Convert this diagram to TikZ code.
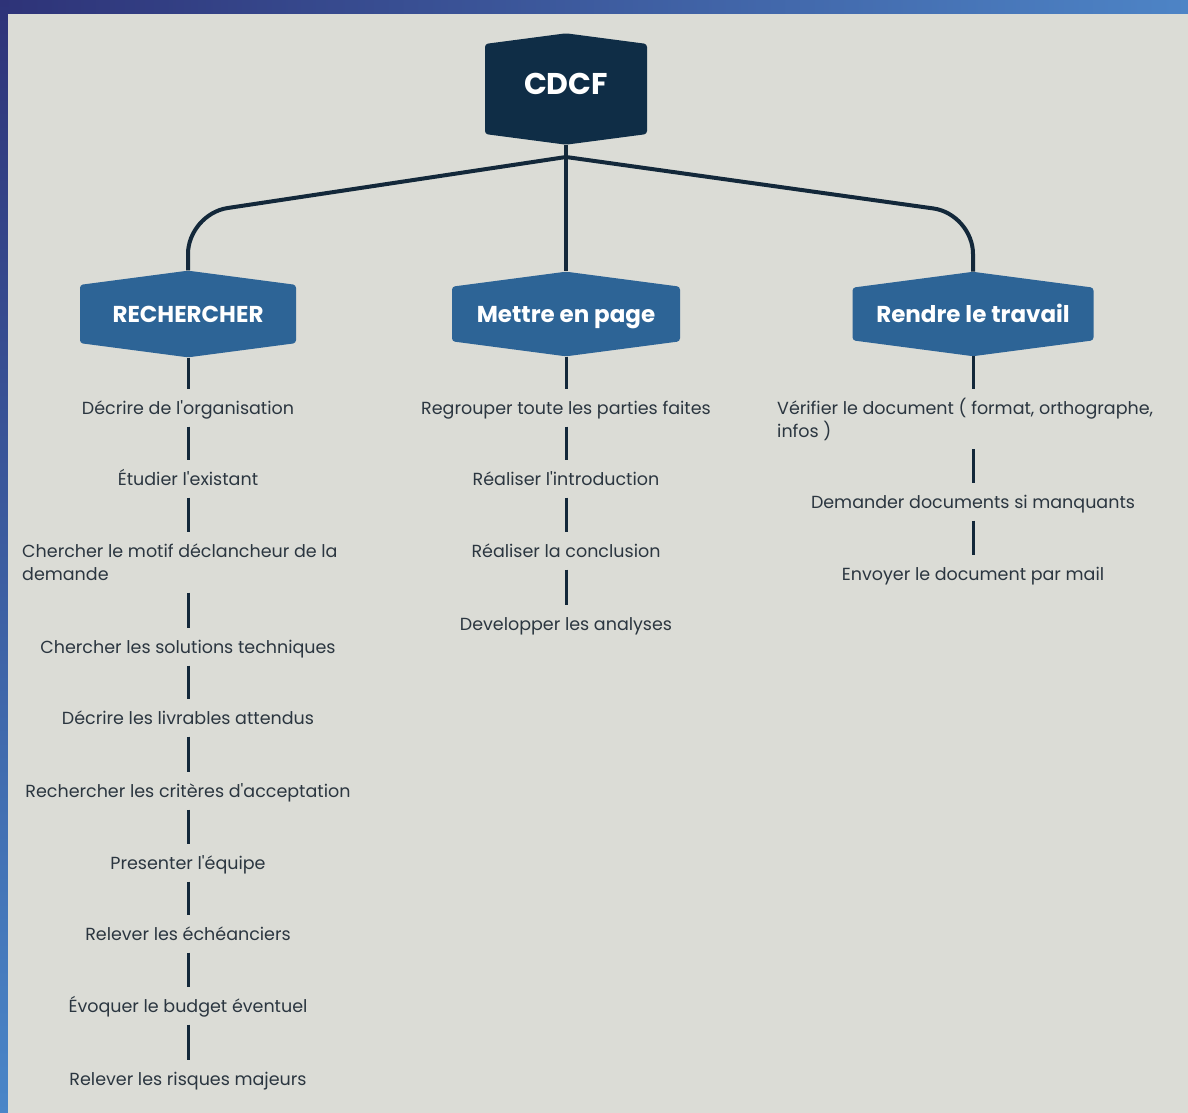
\documentclass[tikz,border=0pt]{standalone}
\usepackage{fontspec}
\setmainfont{Poppins}
\usetikzlibrary{shapes.symbols,positioning,calc}
\definecolor{cdcfnavy}{HTML}{0F2D46}
\definecolor{cdcfblue}{HTML}{2D6496}
\definecolor{cdcfline}{HTML}{13283A}
\definecolor{cdcftext}{HTML}{2B3640}
\definecolor{cdcfpanel}{HTML}{DBDCD6}
\definecolor{frameA}{HTML}{2E3378}
\definecolor{frameB}{HTML}{4D84C6}
\definecolor{frameC}{HTML}{4A86C8}

\begin{document}
\begin{tikzpicture}[x=1pt,y=-1pt,
    rootbox/.style={shape=signal, signal to=north and south, signal pointer angle=165,
                    fill=cdcfnavy, text=white, rounded corners=3pt,
                    font=\fontsize{30}{34}\selectfont\bfseries,
                    text height=21pt, text depth=10pt,
                    minimum width=162pt, minimum height=102pt},
    branchbox/.style={shape=signal, signal to=north and south, signal pointer angle=165,
                      fill=cdcfblue, text=white, rounded corners=3pt,
                      font=\fontsize{23}{27}\selectfont\bfseries,
                      text height=18.5pt, text depth=2.5pt, minimum height=79pt},
    item/.style={text=cdcftext, font=\fontsize{17.5}{23}\selectfont,
                 inner xsep=0pt, inner ysep=11pt, text height=14pt, text depth=1pt},
    item2/.style={item, align=left, anchor=west, text height=37pt},
    link/.style={draw=cdcfline, line width=4pt},
    sublink/.style={draw=cdcfline, line width=3pt}]

    % frame and panel
    \useasboundingbox (0,0) rectangle (1188,1113);
    \fill[left color=frameA, right color=frameB] (0,0) rectangle (1188,14);
    \fill[top color=frameA, bottom color=frameC] (0,0) rectangle (8,1113);
    \fill[cdcfpanel] (8,14) rectangle (1188,1113);

    % Top box
    \node[rootbox] (cdcf) at (566,89) {CDCF};

    % Branch boxes
    \node[branchbox, minimum width=216pt] (rech) at (188,314) {RECHERCHER};
    \node[branchbox, minimum width=228pt] (mise) at (566,314) {Mettre en page};
    \node[branchbox, minimum width=241pt] (rend) at (973,314) {Rendre le travail};

    % Tree lines
    \coordinate (hub) at (566,157);
    \coordinate (lbend) at (188,214);
    \coordinate (rbend) at (973,214);
    \draw[link] (cdcf.south) -- (hub);
    \draw[link, rounded corners=40pt] (hub) -- (lbend) -- (rech.north);
    \draw[link] (hub) -- (mise.north);
    \draw[link, rounded corners=40pt] (hub) -- (rbend) -- (rend.north);

    % RECHERCHER column
    \node[item] (l1) at (188,408) {Décrire de l\textquotesingle organisation};
    \node[item] (l2) at (188,479) {Étudier l\textquotesingle existant};
    \node[item2] (l3) at (22,562.5) {Chercher le motif déclancheur de la\\demande};
    \node[item] (l4) at (188,647) {Chercher les solutions techniques};
    \node[item] (l5) at (188,718) {Décrire les livrables attendus};
    \node[item] (l6) at (188,791) {Rechercher les critères d\textquotesingle acceptation};
    \node[item] (l7) at (188,863) {Presenter l\textquotesingle équipe};
    \node[item] (l8) at (188,934) {Relever les échéanciers};
    \node[item] (l9) at (188,1006) {Évoquer le budget éventuel};
    \node[item] (l10) at (188,1079) {Relever les risques majeurs};

    % Mettre en page column
    \node[item] (m1) at (566,408) {Regrouper toute les parties faites};
    \node[item] (m2) at (566,479) {Réaliser l\textquotesingle introduction};
    \node[item] (m3) at (566,551) {Réaliser la conclusion};
    \node[item] (m4) at (566,624) {Developper les analyses};

    % Rendre le travail column
    \node[item2] (r1) at (777,419) {Vérifier le document ( format, orthographe,\\infos )};
    \node[item] (r2) at (973,502) {Demander documents si manquants};
    \node[item] (r3) at (973,574) {Envoyer le document par mail};

    % Vertical links
    \foreach \a/\b in {rech/l1, l1/l2, l2/l3, l3/l4, l4/l5, l5/l6, l6/l7, l7/l8, l8/l9, l9/l10}
        \draw[sublink] (rech.south |- \a.south) -- (rech.south |- \b.north);
    \foreach \a/\b in {mise/m1, m1/m2, m2/m3, m3/m4}
        \draw[sublink] (mise.south |- \a.south) -- (mise.south |- \b.north);
    \foreach \a/\b in {rend/r1, r1/r2, r2/r3}
        \draw[sublink] (rend.south |- \a.south) -- (rend.south |- \b.north);
\end{tikzpicture}
\end{document}
